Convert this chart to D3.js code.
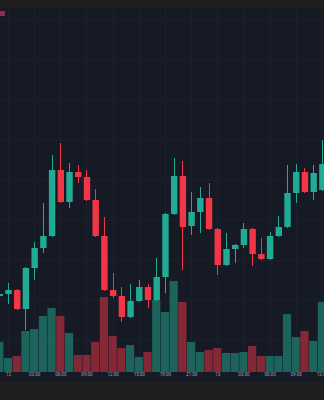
<!DOCTYPE html>
<html>
<head>
<meta charset="utf-8">
<script src="https://cdn.jsdelivr.net/npm/d3@7"></script>
<style>
  html, body { margin: 0; padding: 0; background: #1f1f1f; }
  svg { display: block; }
</style>
</head>
<body>
<svg id="chart" width="324" height="400"></svg>
<script>
// hourly candles, first one is 11th 23:00
var startHour = new Date(2023, 5, 11, 23);
var opens  = [1838, 1839, 1841, 1831.5, 1852, 1862, 1868, 1901, 1885, 1900, 1897.5, 1886, 1868, 1841, 1838, 1827.5, 1835.5, 1842.5, 1836, 1847.5, 1879, 1898, 1873, 1880, 1887, 1871.5, 1853.5, 1861.5, 1863.5, 1871.5, 1859, 1856.5, 1868, 1872.5, 1889.5, 1900, 1890, 1891];
var highs  = [1840, 1844.5, 1841.5, 1852.5, 1865, 1884.5, 1908.5, 1914.5, 1904.5, 1903.5, 1901, 1891.5, 1877.5, 1849.5, 1842.5, 1844, 1846, 1844, 1857, 1879.5, 1907, 1905.5, 1890, 1892.5, 1894.5, 1872, 1869.5, 1864, 1874.5, 1872, 1867, 1870, 1878, 1903.5, 1904, 1902, 1903.5, 1916];
var lows   = [1837, 1834, 1831, 1821, 1846, 1859.5, 1867.5, 1884.5, 1882, 1894.5, 1885.5, 1867.5, 1840.5, 1837, 1825, 1827, 1835, 1832, 1835.5, 1839.5, 1878.5, 1851, 1868.5, 1869.5, 1871, 1848.5, 1853, 1854.5, 1862, 1853, 1856, 1856, 1867.5, 1872, 1884.5, 1889.5, 1886, 1890.5];
var closes = [1839, 1841, 1831.5, 1852, 1862, 1868, 1901, 1885, 1900, 1897.5, 1886, 1868, 1841, 1838, 1827.5, 1835.5, 1842.5, 1836, 1847.5, 1879, 1898, 1872.5, 1880, 1887, 1871.5, 1853.5, 1861.5, 1863.5, 1871.5, 1859, 1856.5, 1868, 1872.5, 1889.5, 1900, 1890, 1899.5, 1904];
var volumes = [300, 140, 160, 410, 430, 560, 640, 560, 390, 170, 170, 300, 750, 360, 240, 270, 150, 200, 720, 600, 910, 700, 300, 200, 220, 240, 190, 190, 200, 260, 160, 160, 160, 580, 350, 410, 310, 700];

var W = 324, H = 400;
var plotTop = 8, plotBottom = 372, axisBottom = 382;

var candles = opens.map(function (o, i) {
  return {
    t: d3.timeHour.offset(startHour, i),
    o: o, h: highs[i], l: lows[i], c: closes[i], v: volumes[i],
    up: closes[i] >= o
  };
});

var svg = d3.select("#chart");

var x = d3.scaleTime()
    .domain([new Date(2023, 5, 12, 0), new Date(2023, 5, 13, 12)])
    .range([8, 321.9]);

var y = d3.scaleLinear()
    .domain([1800, 1982])
    .range([plotBottom, plotTop]);

var yVol = d3.scaleLinear()
    .domain([0, 1000])
    .range([plotBottom, plotBottom - 100]);

var upColor = "#22ab94", downColor = "#f23645";
var upVol = "rgba(34,171,148,0.5)", downVol = "rgba(242,54,69,0.5)";

// chart panel
svg.append("rect").attr("x", 0).attr("y", plotTop).attr("width", W).attr("height", axisBottom - plotTop)
    .attr("fill", "#161a25");

var tickTimes = x.ticks(d3.timeHour.every(3));

// grid
svg.append("g").selectAll("line")
    .data(tickTimes)
    .enter().append("line")
    .attr("x1", function (d) { return Math.round(x(d)) + 0.5; })
    .attr("x2", function (d) { return Math.round(x(d)) + 0.5; })
    .attr("y1", plotTop).attr("y2", plotBottom)
    .attr("stroke", "#1c202d").attr("stroke-width", 1);

svg.append("g").selectAll("line")
    .data(d3.range(1816, 1982, 20))
    .enter().append("line")
    .attr("x1", 0).attr("x2", W)
    .attr("y1", function (d) { return Math.round(y(d)) + 0.5; })
    .attr("y2", function (d) { return Math.round(y(d)) + 0.5; })
    .attr("stroke", "#1c202d").attr("stroke-width", 1);

// volume
var volW = 8.2;
svg.append("g").selectAll("rect")
    .data(candles)
    .enter().append("rect")
    .attr("x", function (d) { return x(d.t) - volW / 2; })
    .attr("y", function (d) { return yVol(d.v); })
    .attr("width", volW)
    .attr("height", function (d) { return plotBottom - yVol(d.v); })
    .attr("fill", function (d) { return d.up ? upVol : downVol; });

// wicks
svg.append("g").selectAll("line")
    .data(candles)
    .enter().append("line")
    .attr("x1", function (d) { return Math.round(x(d.t)) + 0.5; })
    .attr("x2", function (d) { return Math.round(x(d.t)) + 0.5; })
    .attr("y1", function (d) { return y(d.h); })
    .attr("y2", function (d) { return y(d.l); })
    .attr("stroke", function (d) { return d.up ? upColor : downColor; })
    .attr("stroke-width", 1);

// bodies
var bodyW = 6.4;
svg.append("g").selectAll("rect")
    .data(candles)
    .enter().append("rect")
    .attr("x", function (d) { return x(d.t) - bodyW / 2 + 0.5; })
    .attr("y", function (d) { return y(Math.max(d.o, d.c)); })
    .attr("width", bodyW)
    .attr("height", function (d) { return Math.max(1, Math.abs(y(d.o) - y(d.c))); })
    .attr("fill", function (d) { return d.up ? upColor : downColor; });

// cropped legend tag top-left
svg.append("rect").attr("x", 0).attr("y", 11).attr("width", 5).attr("height", 5)
    .attr("fill", "#8e2b47");

// time axis
var fmt = function (d) {
  return d.getHours() === 0 ? d3.timeFormat("%-d")(d) : d3.timeFormat("%H:%M")(d);
};
var xAxis = d3.axisBottom(x)
    .tickValues(tickTimes)
    .tickSize(0)
    .tickPadding(0)
    .tickFormat(fmt);

var gx = svg.append("g")
    .attr("transform", "translate(0," + (plotBottom + 1) + ")")
    .call(xAxis);
gx.select(".domain").remove();
gx.selectAll("text")
    .attr("dy", "0.71em")
    .attr("fill", "#a3a6af")
    .attr("font-family", "Roboto, 'DejaVu Sans', sans-serif")
    .attr("font-size", "4.5px");
</script>
</body>
</html>
